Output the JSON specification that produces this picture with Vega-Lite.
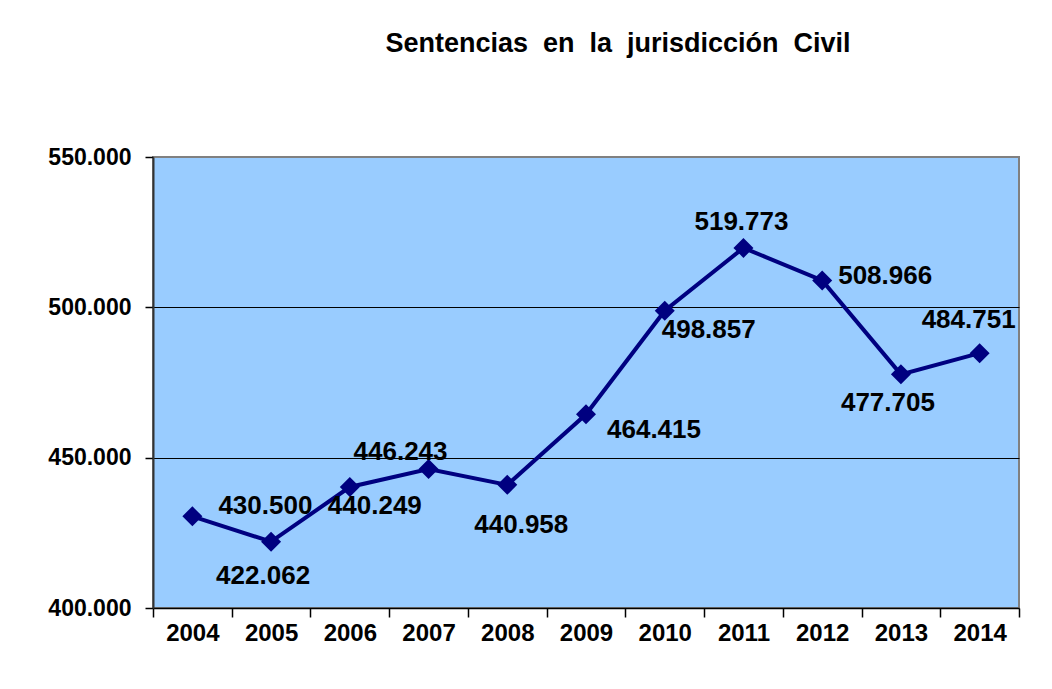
{
  "$schema": "https://vega.github.io/schema/vega-lite/v6.json",
  "autosize": {"type": "none"},
  "padding": {"left": 153, "top": 157, "right": 33, "bottom": 81},
  "width": 866,
  "height": 451,
  "background": "#ffffff",
  "title": {
    "text": "Sentencias\u00a0 en\u00a0 la\u00a0 jurisdicción\u00a0 Civil",
    "font": "Liberation Sans",
    "fontSize": 27,
    "fontWeight": "bold",
    "color": "#000000",
    "anchor": "middle",
    "frame": "group",
    "dx": 32,
    "offset": 88
  },
  "data": {
    "values": [
      {"year": "2004", "value": 430500},
      {"year": "2005", "value": 422062},
      {"year": "2006", "value": 440249},
      {"year": "2007", "value": 446243},
      {"year": "2008", "value": 440958},
      {"year": "2009", "value": 464415},
      {"year": "2010", "value": 498857},
      {"year": "2011", "value": 519773},
      {"year": "2012", "value": 508966},
      {"year": "2013", "value": 477705},
      {"year": "2014", "value": 484751}
    ]
  },
  "encoding": {
    "x": {
      "field": "year",
      "type": "ordinal",
      "scale": {"type": "band", "paddingInner": 0, "paddingOuter": 0},
      "axis": {
        "title": null,
        "labelAngle": 0,
        "tickBand": "extent",
        "domainColor": "#000000",
        "domainWidth": 1.5,
        "tickColor": "#000000",
        "tickWidth": 1.5,
        "tickSize": 9,
        "labelFont": "Liberation Sans",
        "labelFontWeight": "bold",
        "labelFontSize": 24,
        "labelColor": "#000000",
        "labelPadding": 4
      }
    },
    "y": {
      "field": "value",
      "type": "quantitative",
      "scale": {"domain": [400000, 550000], "nice": false, "zero": false},
      "axis": {
        "title": null,
        "values": [400000, 450000, 500000, 550000],
        "format": ",.0f",
        "grid": true,
        "gridColor": {"condition": {"test": "datum.value == 550000 || datum.value == 400000", "value": "transparent"}, "value": "#000000"},
        "gridWidth": 1,
        "domainColor": "#333333",
        "domainWidth": 2,
        "tickColor": "#000000",
        "tickWidth": 1.5,
        "tickSize": 8,
        "labelPadding": 14,
        "labelFont": "Liberation Sans",
        "labelFontWeight": "bold",
        "labelFontSize": 23,
        "labelColor": "#000000"
      }
    }
  },
  "layer": [
    {
      "mark": {
        "type": "line",
        "color": "#000080",
        "strokeWidth": 4,
        "point": {"shape": "diamond", "size": 400, "filled": true, "color": "#000080", "opacity": 1}
      }
    },
    {"transform": [{"filter": "datum.year == '2004'"}], "mark": {"type": "text", "dx": 73, "dy": -10, "font": "Liberation Sans", "fontWeight": "bold", "fontSize": 26, "color": "#000000", "baseline": "middle", "align": "center"}, "encoding": {"text": {"field": "value", "type": "quantitative", "format": ",.0f"}}},
    {"transform": [{"filter": "datum.year == '2005'"}], "mark": {"type": "text", "dx": -8, "dy": 34, "font": "Liberation Sans", "fontWeight": "bold", "fontSize": 26, "color": "#000000", "baseline": "middle", "align": "center"}, "encoding": {"text": {"field": "value", "type": "quantitative", "format": ",.0f"}}},
    {"transform": [{"filter": "datum.year == '2006'"}], "mark": {"type": "text", "dx": 25, "dy": 19, "font": "Liberation Sans", "fontWeight": "bold", "fontSize": 26, "color": "#000000", "baseline": "middle", "align": "center"}, "encoding": {"text": {"field": "value", "type": "quantitative", "format": ",.0f"}}},
    {"transform": [{"filter": "datum.year == '2007'"}], "mark": {"type": "text", "dx": -28, "dy": -17, "font": "Liberation Sans", "fontWeight": "bold", "fontSize": 26, "color": "#000000", "baseline": "middle", "align": "center"}, "encoding": {"text": {"field": "value", "type": "quantitative", "format": ",.0f"}}},
    {"transform": [{"filter": "datum.year == '2008'"}], "mark": {"type": "text", "dx": 14, "dy": 40, "font": "Liberation Sans", "fontWeight": "bold", "fontSize": 26, "color": "#000000", "baseline": "middle", "align": "center"}, "encoding": {"text": {"field": "value", "type": "quantitative", "format": ",.0f"}}},
    {"transform": [{"filter": "datum.year == '2009'"}], "mark": {"type": "text", "dx": 68, "dy": 16, "font": "Liberation Sans", "fontWeight": "bold", "fontSize": 26, "color": "#000000", "baseline": "middle", "align": "center"}, "encoding": {"text": {"field": "value", "type": "quantitative", "format": ",.0f"}}},
    {"transform": [{"filter": "datum.year == '2010'"}], "mark": {"type": "text", "dx": 44, "dy": 19, "font": "Liberation Sans", "fontWeight": "bold", "fontSize": 26, "color": "#000000", "baseline": "middle", "align": "center"}, "encoding": {"text": {"field": "value", "type": "quantitative", "format": ",.0f"}}},
    {"transform": [{"filter": "datum.year == '2011'"}], "mark": {"type": "text", "dx": -2, "dy": -26, "font": "Liberation Sans", "fontWeight": "bold", "fontSize": 26, "color": "#000000", "baseline": "middle", "align": "center"}, "encoding": {"text": {"field": "value", "type": "quantitative", "format": ",.0f"}}},
    {"transform": [{"filter": "datum.year == '2012'"}], "mark": {"type": "text", "dx": 63, "dy": -4, "font": "Liberation Sans", "fontWeight": "bold", "fontSize": 26, "color": "#000000", "baseline": "middle", "align": "center"}, "encoding": {"text": {"field": "value", "type": "quantitative", "format": ",.0f"}}},
    {"transform": [{"filter": "datum.year == '2013'"}], "mark": {"type": "text", "dx": -13, "dy": 29, "font": "Liberation Sans", "fontWeight": "bold", "fontSize": 26, "color": "#000000", "baseline": "middle", "align": "center"}, "encoding": {"text": {"field": "value", "type": "quantitative", "format": ",.0f"}}},
    {"transform": [{"filter": "datum.year == '2014'"}], "mark": {"type": "text", "dx": -11, "dy": -33, "font": "Liberation Sans", "fontWeight": "bold", "fontSize": 26, "color": "#000000", "baseline": "middle", "align": "center"}, "encoding": {"text": {"field": "value", "type": "quantitative", "format": ",.0f"}}}
  ],
  "config": {
    "locale": {"number": {"decimal": ",", "thousands": ".", "grouping": [3], "currency": ["", " €"]}},
    "view": {"fill": "#99CCFF", "stroke": "#808080", "strokeWidth": 2}
  }
}
